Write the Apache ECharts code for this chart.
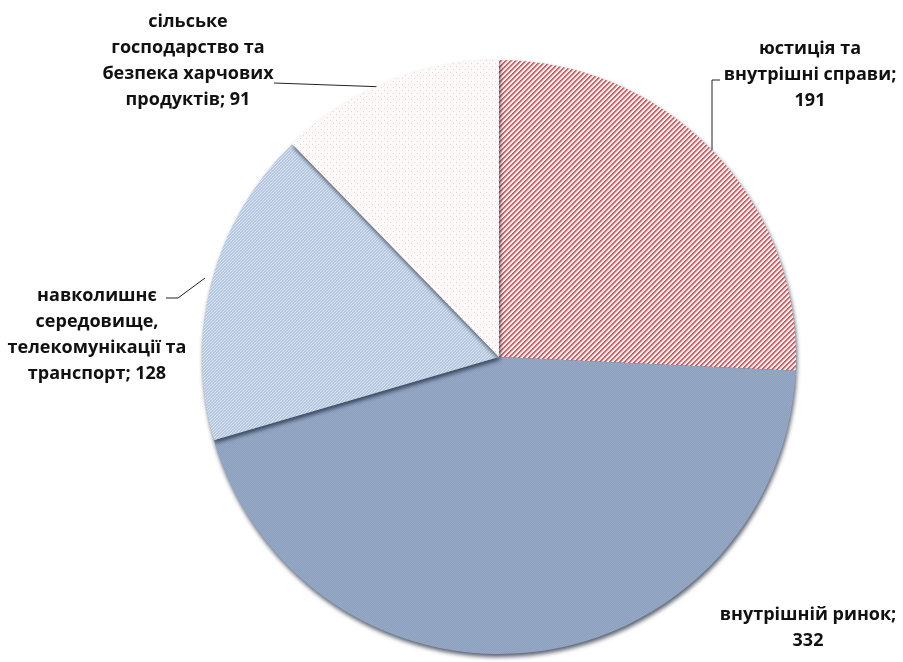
<!DOCTYPE html>
<html>
<head>
<meta charset="utf-8">
<script src="https://cdn.jsdelivr.net/npm/echarts@6/dist/echarts.min.js"></script>
<style>
html,body{margin:0;padding:0;background:#fff;}
#chart{width:903px;height:662px;}
</style>
</head>
<body>
<div id="chart"></div>
<script>
const categories = [
  'юстиція та\nвнутрішні справи',
  'внутрішній ринок',
  'навколишнє\nсередовище,\nтелекомунікації та\nтранспорт',
  'сільське\nгосподарство та\nбезпека харчових\nпродуктів'
];
const labelTexts = [
  'юстиція та\nвнутрішні справи;\n191',
  'внутрішній ринок;\n332',
  'навколишнє\nсередовище,\nтелекомунікації та\nтранспорт; 128',
  'сільське\nгосподарство та\nбезпека харчових\nпродуктів; 91'
];
const values = [191, 332, 128, 91];

function makePattern(size, painter) {
  const c = document.createElement('canvas');
  c.width = size; c.height = size;
  const ctx = c.getContext('2d');
  const img = ctx.createImageData(size, size);
  for (let y = 0; y < size; y++) {
    for (let x = 0; x < size; x++) {
      const col = painter(x, y);
      const i = (y * size + x) * 4;
      img.data[i] = col[0]; img.data[i+1] = col[1]; img.data[i+2] = col[2]; img.data[i+3] = 255;
    }
  }
  ctx.putImageData(img, 0, 0);
  return c;
}
function mix(a, b, t) { return [a[0]+(b[0]-a[0])*t, a[1]+(b[1]-a[1])*t, a[2]+(b[2]-a[2])*t]; }

// red diagonal stripes "/"
const redPat = makePattern(10, (x, y) => {
  const p = (x + y) % 5;
  const red = [198, 104, 108], white = [250, 236, 236];
  if (p < 2) return red;
  if (p === 2) return mix(red, white, 0.6);
  return white;
});
// light blue with fine stripes
const bluePat = makePattern(12, (x, y) => {
  const p = (x + y) % 3;
  const base = [182, 201, 224], lt = [216, 227, 239];
  return p === 0 ? lt : base;
});
// white with pinkish dots
const dotPat = makePattern(6, (x, y) => {
  if ((x === 0 && y === 0) || (x === 3 && y === 3)) return [230, 212, 212];
  return [253, 249, 249];
});
// main blue with subtle texture
const mainPat = makePattern(4, (x, y) => {
  if ((x + y) % 2 === 0) return [148, 168, 198];
  return [142, 162, 192];
});

const fills = [
  {image: redPat, repeat: 'repeat'},
  {image: mainPat, repeat: 'repeat'},
  {image: bluePat, repeat: 'repeat'},
  {image: dotPat, repeat: 'repeat'}
];

// label placement (px) and leader lines
const labelPos = [
  {x: 810, y: 75, line: [[712, 150], [712, 80], [720, 80]]},
  {x: 808, y: 628, line: null},
  {x: 97, y: 335, line: [[205, 278], [178, 298], [166, 298]]},
  {x: 188, y: 61, line: [[386, 87], [330, 85], [274, 83]]}
];

const chart = echarts.init(document.getElementById('chart'));
chart.setOption({
  animation: false,
  series: [{
    type: 'pie',
    center: [499, 357],
    radius: 297,
    startAngle: 90,
    clockwise: true,
    data: categories.map((n, i) => ({
      name: n,
      value: values[i],
      itemStyle: {color: fills[i]},
      label: {formatter: labelTexts[i]},
      labelLine: {show: i !== 1}
    })),
    itemStyle: {
      borderWidth: 0,
      shadowColor: 'rgba(20,30,50,0.7)',
      shadowBlur: 4,
      shadowOffsetX: 1,
      shadowOffsetY: 3
    },
    label: {
      show: true,
      position: 'outside',
      overflow: 'none',
      fontFamily: '"Open Sans", sans-serif',
      fontWeight: 'bold',
      fontSize: 18,
      lineHeight: 26,
      color: '#111',
      align: 'center'
    },
    labelLine: {
      show: true,
      lineStyle: {color: '#222', width: 1}
    },
    labelLayout: function (params) {
      const p = labelPos[params.dataIndex];
      const r = {x: p.x, y: p.y, align: 'center', verticalAlign: 'middle', width: 260};
      if (p.line) r.labelLinePoints = p.line;
      return r;
    }
  }]
});
</script>
</body>
</html>
